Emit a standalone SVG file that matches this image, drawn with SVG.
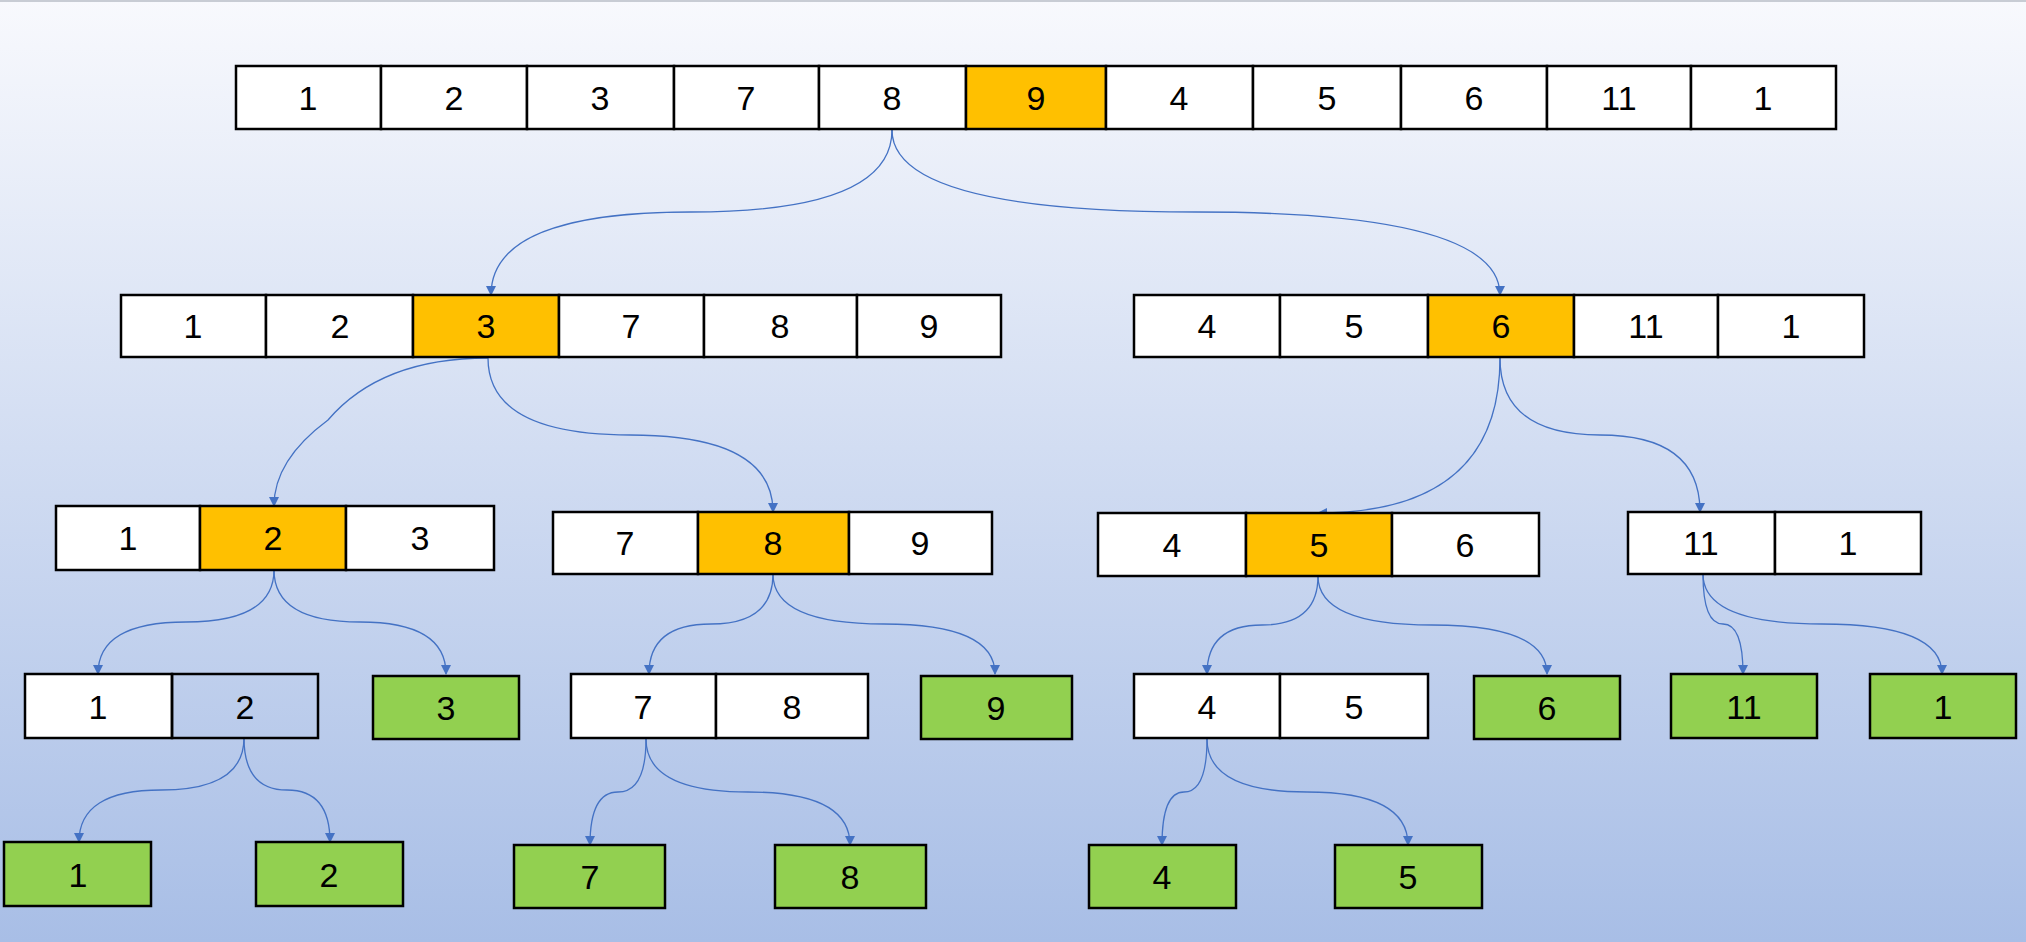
<svg xmlns="http://www.w3.org/2000/svg" width="2026" height="942" viewBox="0 0 2026 942">
<defs>
<linearGradient id="bg" x1="0" y1="0" x2="0" y2="1"><stop offset="0" stop-color="#f8f9fd"/><stop offset="1" stop-color="#a8bee6"/></linearGradient>
<marker id="ar" viewBox="0 0 10 10" refX="9" refY="5" markerWidth="10" markerHeight="10" markerUnits="userSpaceOnUse" orient="auto"><path d="M0,0 L10,5 L0,10 z" fill="#4472C4"/></marker>
<style>
rect.c{stroke:#000;stroke-width:2.5;fill:#fff}
rect.o{fill:#FFC000}
rect.g{fill:#92D050}
rect.n{fill:none}
text{font-family:"Liberation Sans",Arial,sans-serif;font-size:34px;text-anchor:middle;fill:#000}
#connectors path{fill:none;stroke:#4472C4;stroke-width:1.3;marker-end:url(#ar)}
</style>
</defs>
<rect width="2026" height="942" fill="url(#bg)"/>
<rect width="2026" height="2" fill="#c8ccd4"/>
<g id="connectors">
<path d="M892,130 Q892,212 691,212 Q491,212 491,295"/>
<path d="M892,130 Q892,212 1196,212 Q1500,212 1500,295"/>
<path d="M488,358 Q381,358 328,420 Q274,460 274,506"/>
<path d="M488,358 Q488,435 630,435 Q773,435 773,512"/>
<path d="M1500,358 Q1500,513 1318,513"/>
<path d="M1500,358 Q1500,435 1600,435 Q1700,435 1700,512"/>
<path d="M274,570 Q274,622 186,622 Q98,622 98,674"/>
<path d="M274,570 Q274,622 360,622 Q446,622 446,674"/>
<path d="M773,574 Q773,624 711,624 Q649,624 649,674"/>
<path d="M773,574 Q773,624 884,624 Q995,624 995,674"/>
<path d="M1318,576 Q1318,625 1262,625 Q1207,625 1207,674"/>
<path d="M1318,576 Q1318,625 1432,625 Q1547,625 1547,674"/>
<path d="M1703,574 Q1703,624 1723,624 Q1743,624 1743,674"/>
<path d="M1703,574 Q1703,624 1822,624 Q1942,624 1942,674"/>
<path d="M244,738 Q244,790 161,790 Q79,790 79,842"/>
<path d="M244,738 Q244,790 287,790 Q330,790 330,842"/>
<path d="M646,739 Q646,792 618,792 Q590,792 590,845"/>
<path d="M646,739 Q646,792 748,792 Q850,792 850,845"/>
<path d="M1207,739 Q1207,792 1184,792 Q1162,792 1162,845"/>
<path d="M1207,739 Q1207,792 1307,792 Q1408,792 1408,845"/>
</g>
<g id="row1">
<rect class="c" x="236" y="66" width="145" height="63"/><text x="308" y="110">1</text>
<rect class="c" x="381" y="66" width="146" height="63"/><text x="454" y="110">2</text>
<rect class="c" x="527" y="66" width="147" height="63"/><text x="600" y="110">3</text>
<rect class="c" x="674" y="66" width="145" height="63"/><text x="746" y="110">7</text>
<rect class="c" x="819" y="66" width="147" height="63"/><text x="892" y="110">8</text>
<rect class="c o" x="966" y="66" width="140" height="63"/><text x="1036" y="110">9</text>
<rect class="c" x="1106" y="66" width="147" height="63"/><text x="1179" y="110">4</text>
<rect class="c" x="1253" y="66" width="148" height="63"/><text x="1327" y="110">5</text>
<rect class="c" x="1401" y="66" width="146" height="63"/><text x="1474" y="110">6</text>
<rect class="c" x="1547" y="66" width="144" height="63"/><text x="1619" y="110">11</text>
<rect class="c" x="1691" y="66" width="145" height="63"/><text x="1763" y="110">1</text>
</g>
<g id="row2-left">
<rect class="c" x="121" y="295" width="145" height="62"/><text x="193" y="338">1</text>
<rect class="c" x="266" y="295" width="147" height="62"/><text x="340" y="338">2</text>
<rect class="c o" x="413" y="295" width="146" height="62"/><text x="486" y="338">3</text>
<rect class="c" x="559" y="295" width="145" height="62"/><text x="631" y="338">7</text>
<rect class="c" x="704" y="295" width="153" height="62"/><text x="780" y="338">8</text>
<rect class="c" x="857" y="295" width="144" height="62"/><text x="929" y="338">9</text>
</g>
<g id="row2-right">
<rect class="c" x="1134" y="295" width="146" height="62"/><text x="1207" y="338">4</text>
<rect class="c" x="1280" y="295" width="148" height="62"/><text x="1354" y="338">5</text>
<rect class="c o" x="1428" y="295" width="146" height="62"/><text x="1501" y="338">6</text>
<rect class="c" x="1574" y="295" width="144" height="62"/><text x="1646" y="338">11</text>
<rect class="c" x="1718" y="295" width="146" height="62"/><text x="1791" y="338">1</text>
</g>
<g id="row3-a">
<rect class="c" x="56" y="506" width="144" height="64"/><text x="128" y="550">1</text>
<rect class="c o" x="200" y="506" width="146" height="64"/><text x="273" y="550">2</text>
<rect class="c" x="346" y="506" width="148" height="64"/><text x="420" y="550">3</text>
</g>
<g id="row3-b">
<rect class="c" x="553" y="512" width="145" height="62"/><text x="625" y="555">7</text>
<rect class="c o" x="698" y="512" width="151" height="62"/><text x="773" y="555">8</text>
<rect class="c" x="849" y="512" width="143" height="62"/><text x="920" y="555">9</text>
</g>
<g id="row3-c">
<rect class="c" x="1098" y="513" width="148" height="63"/><text x="1172" y="557">4</text>
<rect class="c o" x="1246" y="513" width="146" height="63"/><text x="1319" y="557">5</text>
<rect class="c" x="1392" y="513" width="147" height="63"/><text x="1465" y="557">6</text>
</g>
<g id="row3-d">
<rect class="c" x="1628" y="512" width="147" height="62"/><text x="1701" y="555">11</text>
<rect class="c" x="1775" y="512" width="146" height="62"/><text x="1848" y="555">1</text>
</g>
<g id="row4-e">
<rect class="c" x="25" y="674" width="147" height="64"/><text x="98" y="719">1</text>
<rect class="c n" x="172" y="674" width="146" height="64"/><text x="245" y="719">2</text>
</g>
<g id="row4-f"><rect class="c g" x="373" y="676" width="146" height="63"/><text x="446" y="720">3</text></g>
<g id="row4-g">
<rect class="c" x="571" y="674" width="145" height="64"/><text x="643" y="719">7</text>
<rect class="c" x="716" y="674" width="152" height="64"/><text x="792" y="719">8</text>
</g>
<g id="row4-h"><rect class="c g" x="921" y="676" width="151" height="63"/><text x="996" y="720">9</text></g>
<g id="row4-i">
<rect class="c" x="1134" y="674" width="146" height="64"/><text x="1207" y="719">4</text>
<rect class="c" x="1280" y="674" width="148" height="64"/><text x="1354" y="719">5</text>
</g>
<g id="row4-j"><rect class="c g" x="1474" y="676" width="146" height="63"/><text x="1547" y="720">6</text></g>
<g id="row4-k"><rect class="c g" x="1671" y="674" width="146" height="64"/><text x="1744" y="719">11</text></g>
<g id="row4-l"><rect class="c g" x="1870" y="674" width="146" height="64"/><text x="1943" y="719">1</text></g>
<g id="row5-1"><rect class="c g" x="4" y="842" width="147" height="64"/><text x="78" y="887">1</text></g>
<g id="row5-2"><rect class="c g" x="256" y="842" width="147" height="64"/><text x="329" y="887">2</text></g>
<g id="row5-7"><rect class="c g" x="514" y="845" width="151" height="63"/><text x="590" y="889">7</text></g>
<g id="row5-8"><rect class="c g" x="775" y="845" width="151" height="63"/><text x="850" y="889">8</text></g>
<g id="row5-4"><rect class="c g" x="1089" y="845" width="147" height="63"/><text x="1162" y="889">4</text></g>
<g id="row5-5"><rect class="c g" x="1335" y="845" width="147" height="63"/><text x="1408" y="889">5</text></g>
</svg>
